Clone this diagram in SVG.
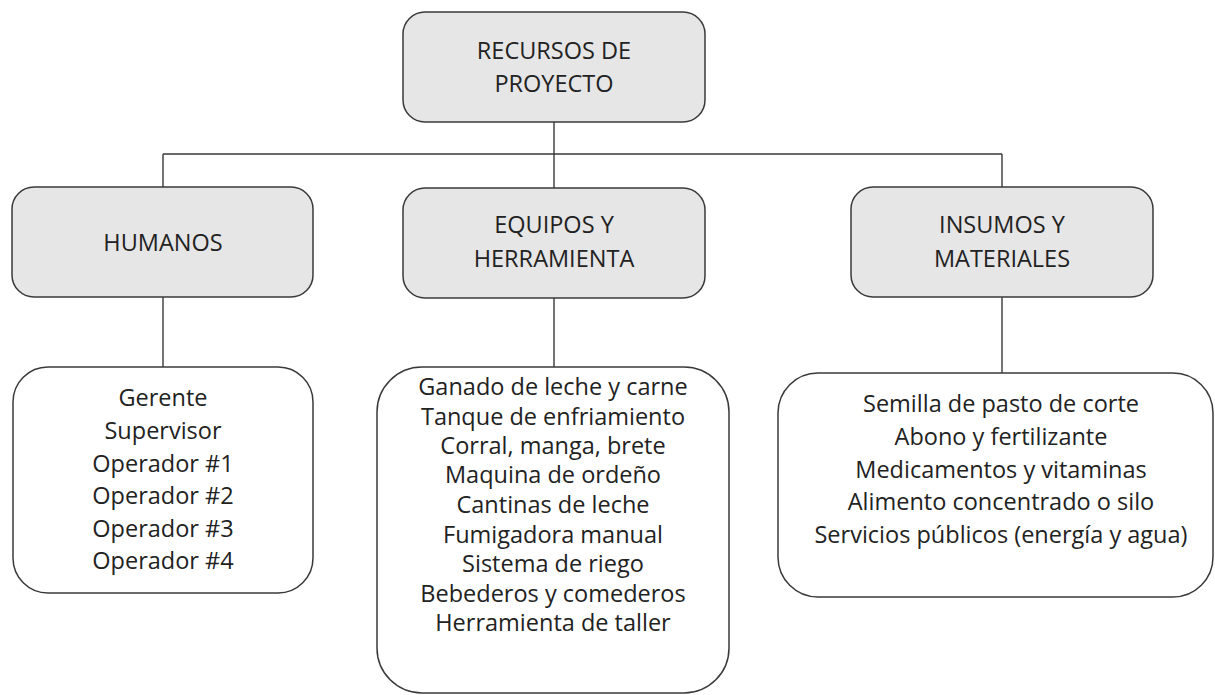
<svg xmlns="http://www.w3.org/2000/svg" width="1215" height="695" viewBox="0 0 1215 695">
<style>
.hdr{fill:#e6e6e6;stroke:#3a3a3a;stroke-width:1.5}
.lst{fill:#ffffff;stroke:#3a3a3a;stroke-width:1.5}
.t{font-family:"Open Sans","Noto Sans",sans-serif;font-size:23.5px;fill:#222222;text-anchor:middle}
.c{fill:none;stroke:#3a3a3a;stroke-width:1.4}
</style>
<rect width="1215" height="695" fill="#ffffff"/>
<g id="connectors">
<path class="c" d="M554 122V188M163 154H1002M163 154V187M1002 154V187M163 297V367M554 298V367M1002 297V373"/>
</g>
<g id="recursos">
<rect class="hdr" x="403" y="12" width="302" height="110" rx="22"/>
<text class="t" x="554" y="59">RECURSOS DE</text>
<text class="t" x="554" y="92">PROYECTO</text>
</g>
<g id="humanos">
<rect class="hdr" x="12" y="187" width="301" height="110" rx="22"/>
<text class="t" x="163" y="251">HUMANOS</text>
</g>
<g id="equipos">
<rect class="hdr" x="403" y="188" width="302" height="110" rx="22"/>
<text class="t" x="554" y="233">EQUIPOS Y</text>
<text class="t" x="554" y="267">HERRAMIENTA</text>
</g>
<g id="insumos">
<rect class="hdr" x="851" y="187" width="302" height="110" rx="22"/>
<text class="t" x="1002" y="233">INSUMOS Y</text>
<text class="t" x="1002" y="267">MATERIALES</text>
</g>
<g id="humanos-lista">
<rect class="lst" x="13" y="367" width="300" height="226" rx="35"/>
<text class="t" x="163" y="406">Gerente</text>
<text class="t" x="163" y="439">Supervisor</text>
<text class="t" x="163" y="472">Operador #1</text>
<text class="t" x="163" y="504">Operador #2</text>
<text class="t" x="163" y="537">Operador #3</text>
<text class="t" x="163" y="569">Operador #4</text>
</g>
<g id="equipos-lista">
<rect class="lst" x="377" y="367" width="352" height="326" rx="45"/>
<text class="t" x="553" y="395">Ganado de leche y carne</text>
<text class="t" x="553" y="425">Tanque de enfriamiento</text>
<text class="t" x="553" y="454">Corral, manga, brete</text>
<text class="t" x="553" y="483">Maquina de ordeño</text>
<text class="t" x="553" y="513">Cantinas de leche</text>
<text class="t" x="553" y="543">Fumigadora manual</text>
<text class="t" x="553" y="572">Sistema de riego</text>
<text class="t" x="553" y="602">Bebederos y comederos</text>
<text class="t" x="553" y="631">Herramienta de taller</text>
</g>
<g id="insumos-lista">
<rect class="lst" x="778" y="373" width="435" height="224" rx="40"/>
<text class="t" x="1001" y="412">Semilla de pasto de corte</text>
<text class="t" x="1001" y="445">Abono y fertilizante</text>
<text class="t" x="1001" y="478">Medicamentos y vitaminas</text>
<text class="t" x="1001" y="510">Alimento concentrado o silo</text>
<text class="t" x="1001" y="543">Servicios públicos (energía y agua)</text>
</g>
</svg>
